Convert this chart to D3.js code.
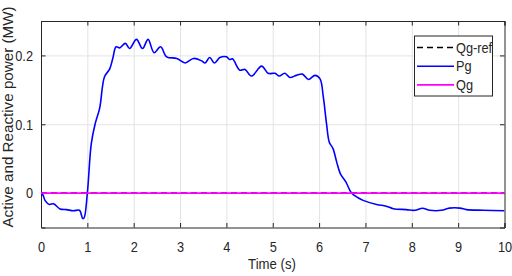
<!DOCTYPE html>
<html>
<head>
<meta charset="utf-8">
<script src="https://cdn.jsdelivr.net/npm/d3@7"></script>
<style>
  body { margin: 0; background: #fff; }
  svg { display: block; font-family: "Liberation Sans", Arial, Helvetica, sans-serif; }
  .grid line { stroke: #e3e3e3; stroke-width: 1; }
  .axis path, .axis line { stroke: #262626; }
  .axis text { fill: #262626; }
</style>
</head>
<body>
<svg width="512" height="276"></svg>
<script>
var svg = d3.select("svg"),
  width = +svg.attr("width"),
  height = +svg.attr("height");

// time (s)
var time = [0, 0.05, 0.09, 0.18, 0.27, 0.41, 0.55, 0.70, 0.83, 0.90,
  0.93, 1.0, 1.085, 1.17, 1.265, 1.37, 1.48, 1.55, 1.62, 1.70,
  1.82, 1.91, 2.06, 2.19, 2.31, 2.44, 2.58, 2.71, 2.93, 3.11,
  3.29, 3.47, 3.54, 3.64, 3.74, 3.86, 4.0, 4.07, 4.13, 4.29,
  4.40, 4.54, 4.76, 4.90, 5.05, 5.14, 5.26, 5.37, 5.51, 5.64,
  5.77, 5.91, 6.02, 6.09, 6.16, 6.22, 6.30, 6.38, 6.46, 6.58,
  6.70, 6.84, 6.95, 7.24, 7.45, 7.60, 7.88, 8.07, 8.23, 8.39,
  8.64, 8.81, 9.04, 9.18, 9.54, 10.0];

// active power Pg (MW)
var pg = [0.0015, -0.004, -0.011, -0.0165, -0.0155, -0.023, -0.024, -0.0257, -0.025, -0.037,
  -0.036, 0.0, 0.072, 0.101, 0.123, 0.169, 0.180, 0.196, 0.2125, 0.211,
  0.2175, 0.210, 0.2233, 0.210, 0.2233, 0.204, 0.2125, 0.198, 0.1956, 0.189,
  0.1956, 0.192, 0.189, 0.197, 0.189, 0.197, 0.198, 0.194, 0.195, 0.1786,
  0.1796, 0.170, 0.1844, 0.174, 0.174, 0.170, 0.174, 0.168, 0.171, 0.1728,
  0.165, 0.171, 0.166, 0.140, 0.101, 0.074, 0.0646, 0.045, 0.028, 0.016,
  0.0, -0.0067, -0.0106, -0.0165, -0.019, -0.0227, -0.024, -0.025, -0.022, -0.025,
  -0.025, -0.0218, -0.0218, -0.024, -0.025, -0.0257];

// reactive power reference and measured (MW)
var qgTime = [0, 10];
var qgRef = [0, 0];
var qg = [0, 0];

var xTicks = [0, 1, 2, 3, 4, 5, 6, 7, 8, 9, 10];
var yTicks = [0, 0.1, 0.2];
var seriesNames = ["Qg-ref", "Pg", "Qg"];

var sx = 0.85; // horizontal squeeze of the text

var x = d3.scaleLinear().domain([0, 10]).range([41, 504.5]);
var y = d3.scaleLinear().domain([-0.05, 0.25]).range([227.5, 21]);

svg.append("defs").append("clipPath").attr("id", "clip")
  .append("rect")
  .attr("x", x(0)).attr("y", y(0.25))
  .attr("width", x(10) - x(0)).attr("height", y(-0.05) - y(0.25));

// grid
svg.append("g").attr("class", "grid")
  .selectAll("line").data(xTicks.slice(1, -1)).enter().append("line")
  .attr("x1", function (d) { return x(d) + 0.5; })
  .attr("x2", function (d) { return x(d) + 0.5; })
  .attr("y1", y(0.25)).attr("y2", y(-0.05));
svg.append("g").attr("class", "grid")
  .selectAll("line").data(yTicks).enter().append("line")
  .attr("y1", function (d) { return y(d) + 0.5; })
  .attr("y2", function (d) { return y(d) + 0.5; })
  .attr("x1", x(0)).attr("x2", x(10));

// axes, ticks inward
var gx = svg.append("g").attr("class", "axis")
  .attr("transform", "translate(0," + y(-0.05) + ")")
  .call(d3.axisBottom(x).tickValues(xTicks).tickSize(-4.5).tickPadding(10).tickFormat(d3.format("d")));
gx.selectAll("text").attr("font-size", 15).attr("transform", "scale(" + sx + ",1)");
gx.selectAll(".tick text").attr("dy", "0.95em");

var gy = svg.append("g").attr("class", "axis")
  .attr("transform", "translate(" + x(0) + ",0)")
  .call(d3.axisLeft(y).tickValues(yTicks).tickSize(-4.5).tickFormat(function (d) { return d === 0 ? "0" : d3.format(".1f")(d); }));
gy.selectAll("text").attr("font-size", 15)
  .attr("x", -8 / sx)
  .attr("transform", "scale(" + sx + ",1)");

svg.append("g").attr("class", "axis")
  .attr("transform", "translate(0," + y(0.25) + ")")
  .call(d3.axisTop(x).tickValues(xTicks).tickSize(-4.5).tickFormat(""));
svg.append("g").attr("class", "axis")
  .attr("transform", "translate(" + x(10) + ",0)")
  .call(d3.axisRight(y).tickValues(yTicks).tickSize(-4.5).tickFormat(""));

// lines
var line = d3.line()
  .x(function (d) { return x(d[0]); })
  .y(function (d) { return y(d[1]); })
  .curve(d3.curveCatmullRom);

var plot = svg.append("g").attr("clip-path", "url(#clip)");

plot.append("path")
  .datum(qgTime.map(function (t, i) { return [t, qgRef[i]]; }))
  .attr("fill", "none").attr("stroke", "#000").attr("stroke-width", 1.5)
  .attr("stroke-dasharray", "6,4")
  .attr("d", line);

plot.append("path")
  .datum(time.map(function (t, i) { return [t, pg[i]]; }))
  .attr("fill", "none").attr("stroke", "#0000ff").attr("stroke-width", 1.6)
  .attr("d", line);

plot.append("path")
  .datum(qgTime.map(function (t, i) { return [t, qg[i]]; }))
  .attr("fill", "none").attr("stroke", "#ff00ff").attr("stroke-width", 1.6)
  .attr("d", line);

// axis labels
svg.append("text")
  .attr("transform", "translate(272,269) scale(" + sx + ",1)")
  .attr("text-anchor", "middle")
  .attr("font-size", 15.5)
  .attr("fill", "#262626")
  .text("Time (s)");

svg.append("text")
  .attr("transform", "translate(13,117) rotate(-90)")
  .attr("text-anchor", "middle")
  .attr("font-size", 15.2)
  .attr("fill", "#262626")
  .text("Active and Reactive power (MW)");

// legend
var legend = svg.append("g").attr("transform", "translate(414,35.5)");
legend.append("rect")
  .attr("x", 0.5).attr("y", 0.5)
  .attr("width", 78).attr("height", 60)
  .attr("fill", "#fff").attr("stroke", "#262626").attr("stroke-width", 1);

var styles = [
  { color: "#000", dash: "6,4" },
  { color: "#0000ff", dash: null },
  { color: "#ff00ff", dash: null }
];

var item = legend.selectAll(".item").data(seriesNames).enter().append("g")
  .attr("class", "item")
  .attr("transform", function (d, i) { return "translate(0," + (12 + i * 18.7) + ")"; });
item.append("line")
  .attr("x1", 3).attr("x2", 40)
  .attr("stroke", function (d, i) { return styles[i].color; })
  .attr("stroke-width", 1.6)
  .attr("stroke-dasharray", function (d, i) { return styles[i].dash; });
item.append("text")
  .attr("transform", "translate(42,0) scale(" + sx + ",1)")
  .attr("dy", "0.35em")
  .attr("font-size", 15)
  .attr("fill", "#262626")
  .text(function (d) { return d; });
</script>
</body>
</html>
